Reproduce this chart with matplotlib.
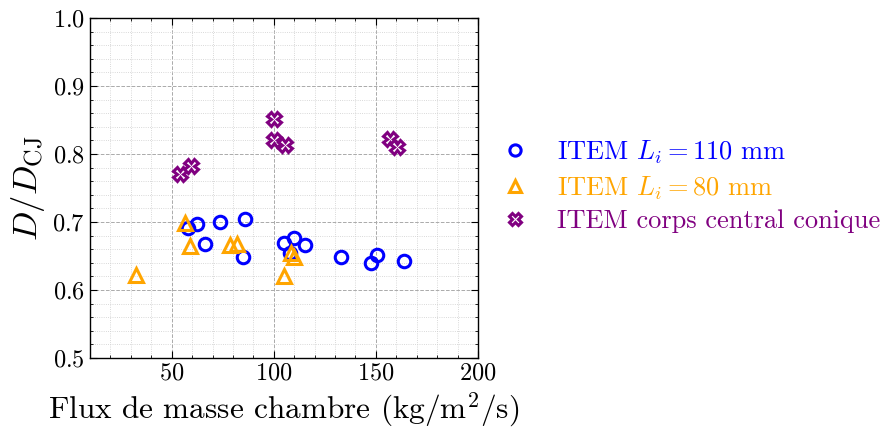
import matplotlib
matplotlib.use("Agg")
import matplotlib.pyplot as plt
from matplotlib.ticker import MultipleLocator

plt.rcParams["font.family"] = "cmr10"
plt.rcParams["mathtext.fontset"] = "cm"
plt.rcParams["axes.formatter.use_mathtext"] = True

# ITEM L_i = 110 mm
x_110 = [58.2, 62.3, 66.4, 73.7, 86.0, 84.8, 104.8, 108.0, 109.7, 115.4, 133.0, 147.7, 150.5, 164.0]
y_110 = [0.691, 0.697, 0.668, 0.700, 0.705, 0.649, 0.669, 0.655, 0.676, 0.666, 0.648, 0.639, 0.651, 0.643]

# ITEM L_i = 80 mm
x_80 = [32.5, 56.6, 59.0, 78.6, 81.9, 104.8, 108.5, 110.0]
y_80 = [0.622, 0.698, 0.664, 0.666, 0.668, 0.621, 0.654, 0.648]

# ITEM corps central conique
x_cc = [54.1, 59.5, 100.2, 100.2, 105.6, 157.0, 160.3]
y_cc = [0.771, 0.782, 0.851, 0.821, 0.813, 0.822, 0.811]

C_BLUE = "#0000ff"
C_ORANGE = "#ffa500"
C_PURPLE = "#800080"

fig = plt.figure(figsize=(8.92, 4.30), dpi=100)
ax = fig.add_axes([90 / 892, 1 - 358 / 430, 388 / 892, 340 / 430])

ax.plot(x_110, y_110, ls="none", marker="o", ms=9, mew=2.2, mfc="none", mec=C_BLUE,
        label=r"ITEM $L_i = 110$ mm")
ax.plot(x_80, y_80, ls="none", marker="^", ms=10, mew=2.2, mfc="none", mec=C_ORANGE,
        label=r"ITEM $L_i = 80$ mm")
ax.plot(x_cc, y_cc, ls="none", marker="X", ms=10, mew=2.2, mfc="white", mec=C_PURPLE,
        label="ITEM corps central conique")

ax.set_xlim(10, 200)
ax.set_ylim(0.5, 1.0)
ax.xaxis.set_major_locator(MultipleLocator(50))
ax.xaxis.set_minor_locator(MultipleLocator(10))
ax.yaxis.set_major_locator(MultipleLocator(0.1))
ax.yaxis.set_minor_locator(MultipleLocator(0.02))
ax.tick_params(which="both", direction="in", top=True, right=True, labelsize=17.5)
ax.tick_params(which="major", length=5)
ax.tick_params(which="minor", length=2.5)
ax.grid(which="major", ls="--", lw=0.7, color="#aaaaaa")
ax.grid(which="minor", ls=":", lw=0.6, color="#cccccc")
for s in ax.spines.values():
    s.set_linewidth(1.0)

ax.set_xlabel(r"Flux de masse chambre (kg/m$^2$/s)", fontsize=22.5)
ax.xaxis.set_label_coords(0.5, -0.094)
ax.set_ylabel(r"$D/D_{\mathrm{CJ}}$", fontsize=25, labelpad=4)

leg = ax.legend(loc="center left", bbox_to_anchor=(0.994, 0.506), frameon=False,
                fontsize=19, handletextpad=1.0, labelspacing=0.3, handlelength=1.2,
                markerscale=0.9)
for txt, c in zip(leg.get_texts(), [C_BLUE, C_ORANGE, C_PURPLE]):
    txt.set_color(c)

fig.savefig("out.png", dpi=100, facecolor="white")
